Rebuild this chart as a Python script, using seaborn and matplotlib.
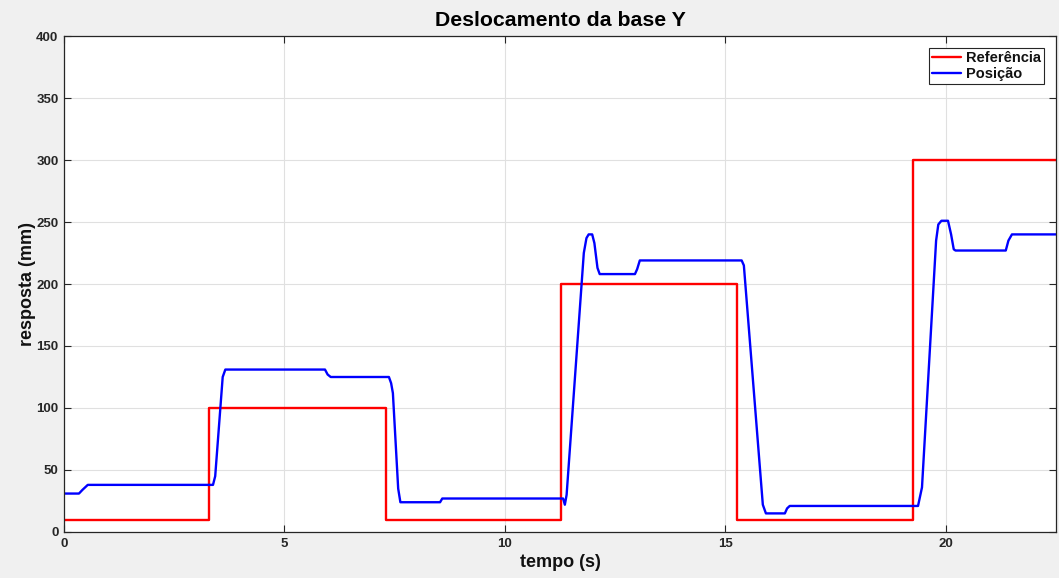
import matplotlib
matplotlib.use("Agg")
import matplotlib.pyplot as plt
import seaborn as sns
import pandas as pd

# Reference set-point (step changes), time in s, value in mm
ref_t = [0.0, 3.29, 7.30, 11.27, 15.26, 19.25, 22.5]
ref_y = [10, 100, 10, 200, 10, 300, 300]

# Measured position of the base (breakpoints of the response curve)
pos_t = [0.0, 0.34, 0.42, 0.54, 3.38, 3.43, 3.60, 3.66, 5.92, 5.98, 6.05,
         7.37, 7.42, 7.46, 7.58, 7.63, 8.53, 8.58, 8.64,
         11.32, 11.36, 11.40, 11.79, 11.85, 11.90, 11.98, 12.03, 12.10, 12.15,
         12.95, 13.00, 13.06, 15.37, 15.42, 15.85, 15.92, 16.35, 16.40, 16.46,
         19.37, 19.46, 19.78, 19.83, 19.90, 20.05, 20.12, 20.18, 20.22,
         21.36, 21.42, 21.50, 22.5]
pos_y = [31, 31, 34, 38, 38, 45, 125, 131, 131, 127, 125,
         125, 120, 112, 35, 24, 24, 27, 27,
         27, 22, 30, 225, 237, 240, 240, 233, 213, 208,
         208, 212, 219, 219, 215, 22, 15, 15, 19, 21,
         21, 36, 235, 248, 251, 251, 240, 228, 227,
         227, 235, 240, 240]

x_ticks = [0, 5, 10, 15, 20]
y_ticks = [0, 50, 100, 150, 200, 250, 300, 350, 400]

sns.set_theme(style="white")
plt.rcParams["font.family"] = ["Liberation Sans", "DejaVu Sans"]
plt.rcParams["font.weight"] = "bold"

ref_df = pd.DataFrame({"tempo": ref_t, "resposta": ref_y})
pos_df = pd.DataFrame({"tempo": pos_t, "resposta": pos_y})

fig = plt.figure(figsize=(10.59, 5.78), dpi=100, facecolor="#f0f0f0")
ax = fig.add_axes([0.0604, 0.0796, 0.9368, 0.8581])
ax.set_facecolor("white")

sns.lineplot(data=ref_df, x="tempo", y="resposta", ax=ax, color="#ff0000",
             lw=1.7, drawstyle="steps-post", estimator=None, sort=False,
             label="Referência")
sns.lineplot(data=pos_df, x="tempo", y="resposta", ax=ax, color="#0000ff",
             lw=1.7, estimator=None, sort=False, label="Posição")

ax.set_xlim(0, 22.5)
ax.set_ylim(0, 400)
ax.set_xticks(x_ticks)
ax.set_yticks(y_ticks)
ax.grid(True, color="#e0e0e0", lw=0.8)
ax.set_axisbelow(True)

for s in ax.spines.values():
    s.set_visible(True)
    s.set_color("#262626")
    s.set_linewidth(0.9)

ax.tick_params(axis="both", which="both", direction="in", length=5, width=0.8,
               color="#262626", labelcolor="#262626", labelsize=9.5,
               top=True, right=True, bottom=True, left=True, pad=4)
for lbl in ax.get_xticklabels() + ax.get_yticklabels():
    lbl.set_fontweight("bold")

ax.set_title("Deslocamento da base Y", fontsize=15.3, fontweight="bold",
             color="#000000", pad=7)
ax.set_xlabel("tempo (s)", fontsize=13, fontweight="bold", color="#111111",
              labelpad=3)
ax.set_ylabel("resposta (mm)", fontsize=13, fontweight="bold", color="#111111",
              labelpad=0)

leg = ax.legend(loc="upper right", prop={"weight": "bold", "size": 10.5},
                frameon=True, fancybox=False,
                borderaxespad=0.8, borderpad=0.25, labelspacing=0.1,
                handlelength=2.0, handletextpad=0.3)
leg.get_frame().set_edgecolor("#262626")
leg.get_frame().set_linewidth(0.8)
leg.get_frame().set_alpha(1.0)
for t in leg.get_texts():
    t.set_color("#111111")

fig.savefig("out.png", dpi=100, facecolor=fig.get_facecolor())
